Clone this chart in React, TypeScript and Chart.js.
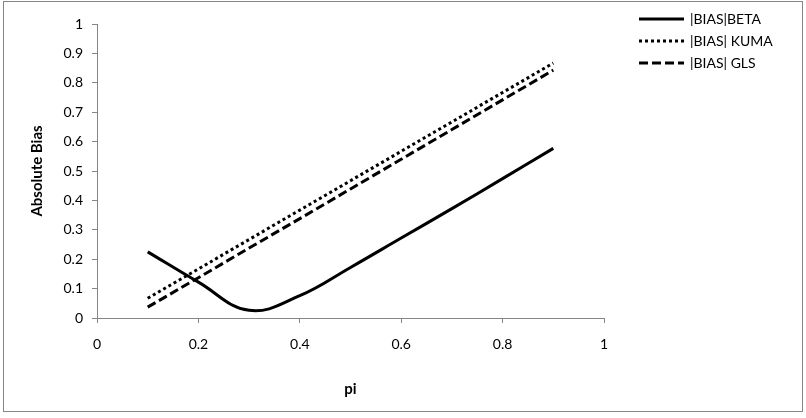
import React, { useEffect, useRef } from "react";
import { Chart, registerables } from "chart.js";

Chart.register(...registerables);

const piValues = [0.1, 0.2, 0.3, 0.4, 0.5, 0.6, 0.7, 0.8, 0.9];
const biasBeta = [0.225, 0.122, 0.026, 0.076, 0.172, 0.272, 0.372, 0.474, 0.577];
const biasKuma = [0.067, 0.167, 0.267, 0.367, 0.467, 0.567, 0.667, 0.767, 0.867];
const biasGls = [0.037, 0.137, 0.238, 0.338, 0.439, 0.54, 0.641, 0.742, 0.843];
const seriesLabels = ["|BIAS|BETA", "|BIAS| KUMA", "|BIAS| GLS"];
const seriesDashes: number[][] = [[], [3, 3], [9, 4]];
const xTitle = "pi";
const yTitle = "Absolute Bias";

const FONT = "Lato, 'Open Sans', sans-serif";
const AXIS_GRAY = "#868686";

const framePlugin = {
  id: "frame",
  beforeDraw(chart: any) {
    const ctx = chart.ctx;
    ctx.save();
    ctx.fillStyle = "#ffffff";
    ctx.fillRect(0, 0, chart.width, chart.height);
    ctx.strokeStyle = AXIS_GRAY;
    ctx.lineWidth = 1;
    ctx.strokeRect(3.5, 1.5, 799, 410);
    ctx.restore();
  },
};

const legendPlugin = {
  id: "customLegend",
  afterDraw(chart: any) {
    const ctx = chart.ctx;
    ctx.save();
    chart.data.datasets.forEach((ds: any, i: number) => {
      const y = 19 + i * 22;
      ctx.beginPath();
      ctx.strokeStyle = "#000";
      ctx.lineWidth = 3;
      ctx.setLineDash(ds.borderDash || []);
      ctx.moveTo(639, y);
      ctx.lineTo(684, y);
      ctx.stroke();
      ctx.setLineDash([]);
      ctx.fillStyle = "#000";
      ctx.font = `14px ${FONT}`;
      ctx.textBaseline = "middle";
      ctx.textAlign = "left";
      ctx.fillText(ds.label, 690, y);
    });
    ctx.restore();
  },
};

export default function App() {
  const ref = useRef<HTMLCanvasElement>(null);
  useEffect(() => {
    document.body.style.margin = "0";
    const datasets = [biasBeta, biasKuma, biasGls].map((vals, i) => ({
      label: seriesLabels[i],
      data: piValues.map((x, j) => ({ x, y: vals[j] })),
      borderColor: "#000",
      backgroundColor: "#000",
      borderWidth: 3,
      borderDash: seriesDashes[i],
      pointRadius: 0,
      tension: i === 0 ? 0.4 : 0,
      cubicInterpolationMode: "default" as const,
      fill: false,
    }));
    const chart = new Chart(ref.current!, {
      type: "line",
      data: { datasets },
      plugins: [framePlugin, legendPlugin],
      options: {
        responsive: false,
        animation: false,
        layout: { padding: { left: 20, right: 202, top: 24, bottom: 20 } },
        plugins: { legend: { display: false }, tooltip: { enabled: false } },
        scales: {
          x: {
            type: "linear",
            min: 0,
            max: 1,
            border: { color: AXIS_GRAY, width: 1 },
            grid: { drawOnChartArea: false, tickLength: 5, color: AXIS_GRAY },
            ticks: {
              stepSize: 0.2,
              padding: 13,
              color: "#000",
              font: { family: FONT, size: 14 },
              maxRotation: 0,
              callback: (v: any) => String(Math.round(Number(v) * 10) / 10),
            },
            title: {
              display: true,
              text: xTitle,
              color: "#000",
              font: { family: FONT, size: 15, weight: "bold" },
              padding: { top: 12, bottom: 0 },
            },
            afterFit: (s: any) => {
              s.height = 418 - 318 - 20;
            },
          },
          y: {
            type: "linear",
            min: 0,
            max: 1,
            border: { color: AXIS_GRAY, width: 1 },
            grid: { drawOnChartArea: false, tickLength: 5, color: AXIS_GRAY },
            ticks: {
              stepSize: 0.1,
              padding: 9,
              color: "#000",
              font: { family: FONT, size: 14 },
              callback: (v: any) => String(Math.round(Number(v) * 10) / 10),
            },
            title: {
              display: true,
              text: yTitle,
              color: "#000",
              font: { family: FONT, size: 15, weight: "bold" },
              padding: { top: 8, bottom: 0 },
            },
            afterFit: (s: any) => {
              s.width = 97 - 20;
            },
          },
        },
      },
    });
    return () => chart.destroy();
  }, []);
  return <canvas ref={ref} width={806} height={418} style={{ display: "block" }} />;
}
